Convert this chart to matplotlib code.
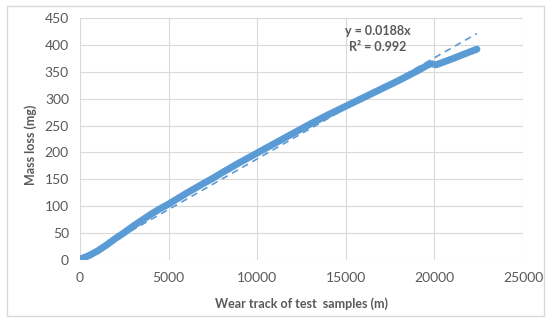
import matplotlib.pyplot as plt
from matplotlib.patches import Rectangle

# wear track (m) and mass loss (mg)
distance = [100, 500, 1000, 1500, 2000, 2500, 3000, 3500, 4000, 4500, 5000,
            6000, 7000, 7500, 8000, 9000, 10000, 11000, 12000, 12500, 13000,
            14000, 15000, 16000, 17000, 18000, 19000, 19600, 19800, 20100,
            21000, 22000, 22400]
mass_loss = [3, 8, 17, 28, 40, 51, 63, 74, 85, 95, 104,
             124, 143, 152, 162, 181, 199, 217, 235, 244, 253,
             270, 286, 302, 318, 334, 351, 362, 365, 363,
             374, 387, 392]

slope = 0.0188
r_squared = 0.992
trend_x = [0, 22400]

blue = "#5B9BD5"
text_gray = "#595959"
grid_gray = "#D9D9D9"

plt.rcParams['font.family'] = ['Lato', 'DejaVu Sans']

fig = plt.figure(figsize=(5.5, 3.23), dpi=100)
ax = fig.add_axes([80 / 550, 1 - 260 / 323, 443 / 550, 242 / 323])

# frame around the whole chart, as in the spreadsheet export
fig.patches.append(Rectangle((7 / 550, 1 - 316 / 323), 537 / 550, 310 / 323,
                             transform=fig.transFigure, fill=False,
                             edgecolor=grid_gray, linewidth=1))

ax.plot(distance, mass_loss, color=blue, linewidth=5,
        solid_capstyle="round", solid_joinstyle="round", zorder=3)
ax.plot(trend_x, [slope * x for x in trend_x], color=blue, linewidth=1.2,
        linestyle=(0, (4, 3)), zorder=4)

ax.set_xlim(0, 25000)
ax.set_ylim(0, 450)
ax.set_xticks(range(0, 25001, 5000))
ax.set_yticks(range(0, 451, 50))
ax.grid(True, color=grid_gray, linewidth=0.8)
ax.set_axisbelow(True)
for side in ax.spines.values():
    side.set_visible(False)
ax.tick_params(length=0, labelsize=10, labelcolor=text_gray)
ax.tick_params(axis="x", pad=9)
ax.tick_params(axis="y", pad=8)

ax.set_xlabel("Wear track of test  samples (m)", fontsize=9, fontweight="bold",
              color=text_gray, labelpad=9)
ax.set_ylabel("Mass loss (mg)", fontsize=9, fontweight="bold",
              color=text_gray, va="center")
ax.yaxis.set_label_coords(-0.111, 0.475)

ax.text(16800, 411, f"y = {slope}x\nR² = {r_squared}", fontsize=9,
        fontweight="bold", color=text_gray, ha="center", va="center",
        linespacing=1.45)

plt.savefig("out.png", dpi=100)
plt.close()
